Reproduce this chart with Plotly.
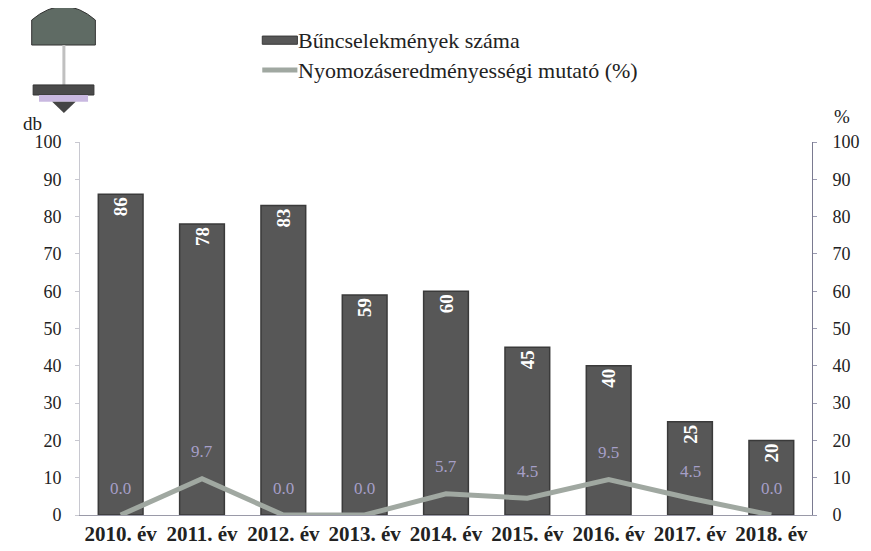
import plotly.graph_objects as go

categories = ["2010. év", "2011. év", "2012. év", "2013. év", "2014. év",
              "2015. év", "2016. év", "2017. év", "2018. év"]
crimes = [86, 78, 83, 59, 60, 45, 40, 25, 20]
rate = [0.0, 9.7, 0.0, 0.0, 5.7, 4.5, 9.5, 4.5, 0.0]
rate_labels = ["0.0", "9.7", "0.0", "0.0", "5.7", "4.5", "9.5", "4.5", "0.0"]
ticks = [0, 10, 20, 30, 40, 50, 60, 70, 80, 90, 100]
legend_names = ["Bűncselekmények száma", "Nyomozáseredményességi mutató (%)"]

SERIF = "Liberation Serif"
BAR_COLOR = "#575757"
LINE_COLOR = "#a0a8a1"

fig = go.Figure()
fig.add_trace(go.Bar(
    x=categories, y=crimes, name=legend_names[0],
    marker=dict(color=BAR_COLOR, line=dict(color="#3a3a3a", width=1.5)),
    text=[str(v) for v in crimes], textposition="inside",
    insidetextanchor="end", textangle=-90,
    textfont=dict(family=SERIF, size=19, color="white", weight="bold"),
    cliponaxis=False, showlegend=False,
))
fig.add_trace(go.Scatter(
    x=categories, y=rate, name=legend_names[1],
    yaxis="y2", mode="lines",
    line=dict(color=LINE_COLOR, width=5),
    cliponaxis=False, showlegend=False,
))

annotations = []
for c, v, t in zip(categories, rate, rate_labels):
    annotations.append(dict(
        x=c, y=v, xref="x", yref="y2", text=t, showarrow=False,
        yshift=27, font=dict(family=SERIF, size=17, color="#a69fc8")))

# paper coords: plot area spans page x 80..812, y 142..515 (height 373)
annotations += [
    dict(text="db", xref="paper", yref="paper", x=-0.08, y=1.015,
         xanchor="left", yanchor="bottom", showarrow=False,
         font=dict(family=SERIF, size=19, color="#222")),
    dict(text="%", xref="paper", yref="paper", x=1.028, y=1.035,
         xanchor="left", yanchor="bottom", showarrow=False,
         font=dict(family=SERIF, size=19, color="#222")),
    dict(text=legend_names[0], xref="paper", yref="paper", x=0.295, y=1.273,
         xanchor="left", yanchor="middle", showarrow=False,
         font=dict(family=SERIF, size=22, color="#222")),
    dict(text=legend_names[1], xref="paper", yref="paper", x=0.295, y=1.193,
         xanchor="left", yanchor="middle", showarrow=False,
         font=dict(family=SERIF, size=22, color="#222")),
]

shapes = [
    # custom legend symbols
    dict(type="rect", xref="paper", yref="paper", x0=0.249, x1=0.297,
         y0=1.262, y1=1.284, fillcolor=BAR_COLOR, line=dict(color="#3a3a3a", width=1)),
    dict(type="line", xref="paper", yref="paper", x0=0.249, x1=0.297,
         y0=1.193, y1=1.193, line=dict(color=LINE_COLOR, width=5)),
    # simple emblem approximation
    dict(type="path", xref="paper", yref="paper",
         path="M -0.066 1.327 Q -0.022 1.40 0.021 1.327 L 0.021 1.26 L -0.066 1.26 Z",
         fillcolor="#5f6b64", line=dict(color="#333", width=1)),
    dict(type="line", xref="paper", yref="paper", x0=-0.022, x1=-0.022,
         y0=1.26, y1=1.153, line=dict(color="#c0c0c0", width=3)),
    dict(type="rect", xref="paper", yref="paper", x0=-0.064, x1=0.019,
         y0=1.126, y1=1.153, fillcolor="#4a4a4a", line=dict(color="#333", width=1)),
    dict(type="rect", xref="paper", yref="paper", x0=-0.056, x1=0.011,
         y0=1.108, y1=1.126, fillcolor="#c9b8e0", line=dict(width=0)),
    dict(type="path", xref="paper", yref="paper",
         path="M -0.038 1.108 L -0.006 1.108 L -0.022 1.078 Z",
         fillcolor="#444", line=dict(width=0)),
]

fig.update_layout(
    width=871, height=551,
    paper_bgcolor="white", plot_bgcolor="white",
    margin=dict(l=72, r=67, t=134, b=44, autoexpand=False),
    font=dict(family=SERIF, size=18, color="#222"),
    bargap=0.45,
    showlegend=False,
    xaxis=dict(showline=True, linecolor="#9a9aa8", linewidth=1,
               tickfont=dict(family=SERIF, size=21, color="#222", weight="bold"),
               ticks="", showgrid=False),
    yaxis=dict(range=[0, 100], tickvals=ticks, showgrid=False, zeroline=False,
               showline=True, linecolor="#c8c8d0", linewidth=1,
               ticks="outside", ticklen=4, tickcolor="#c8c8d0",
               ticklabelstandoff=10),
    yaxis2=dict(range=[0, 100], tickvals=ticks, overlaying="y", side="right",
                showgrid=False, zeroline=False,
                showline=True, linecolor="#7a7a90", linewidth=1,
                ticks="outside", ticklen=4, tickcolor="#9a9ab0",
                ticklabelstandoff=12),
    annotations=annotations,
    shapes=shapes,
)

fig.write_html("out.html")
